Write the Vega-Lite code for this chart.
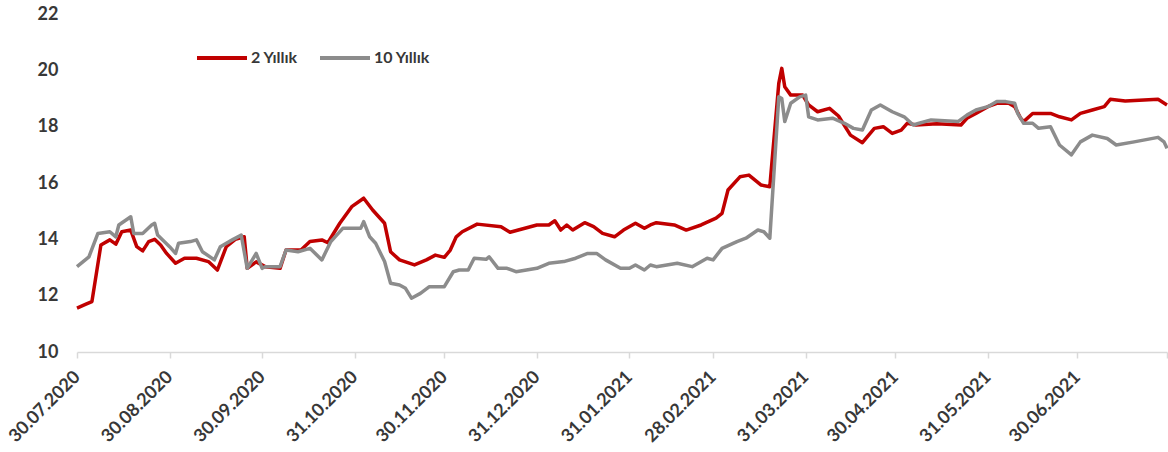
{
  "$schema": "https://vega.github.io/schema/vega-lite/v6.json",
  "width": 1090,
  "height": 338,
  "autosize": {"type": "none"},
  "padding": {"left": 77, "top": 14, "right": 1, "bottom": 100},
  "background": "white",
  "config": {"view": {"stroke": null}, "font": "Lato"},
  "data": {"values": [
    {"d":"2020-07-30","s":"2 Yıllık","v":11.56},
    {"d":"2020-08-02","s":"2 Yıllık","v":11.70},
    {"d":"2020-08-04","s":"2 Yıllık","v":11.79},
    {"d":"2020-08-07","s":"2 Yıllık","v":13.80},
    {"d":"2020-08-10","s":"2 Yıllık","v":13.98},
    {"d":"2020-08-12","s":"2 Yıllık","v":13.83},
    {"d":"2020-08-14","s":"2 Yıllık","v":14.27},
    {"d":"2020-08-17","s":"2 Yıllık","v":14.33},
    {"d":"2020-08-19","s":"2 Yıllık","v":13.74},
    {"d":"2020-08-21","s":"2 Yıllık","v":13.59},
    {"d":"2020-08-23","s":"2 Yıllık","v":13.92},
    {"d":"2020-08-25","s":"2 Yıllık","v":14.00},
    {"d":"2020-08-27","s":"2 Yıllık","v":13.80},
    {"d":"2020-08-29","s":"2 Yıllık","v":13.50},
    {"d":"2020-09-01","s":"2 Yıllık","v":13.15},
    {"d":"2020-09-04","s":"2 Yıllık","v":13.33},
    {"d":"2020-09-08","s":"2 Yıllık","v":13.33},
    {"d":"2020-09-12","s":"2 Yıllık","v":13.21},
    {"d":"2020-09-15","s":"2 Yıllık","v":12.91},
    {"d":"2020-09-18","s":"2 Yıllık","v":13.74},
    {"d":"2020-09-21","s":"2 Yıllık","v":14.00},
    {"d":"2020-09-24","s":"2 Yıllık","v":14.09},
    {"d":"2020-09-25","s":"2 Yıllık","v":12.97},
    {"d":"2020-09-28","s":"2 Yıllık","v":13.20},
    {"d":"2020-10-01","s":"2 Yıllık","v":13.03},
    {"d":"2020-10-06","s":"2 Yıllık","v":12.97},
    {"d":"2020-10-08","s":"2 Yıllık","v":13.62},
    {"d":"2020-10-13","s":"2 Yıllık","v":13.62},
    {"d":"2020-10-16","s":"2 Yıllık","v":13.92},
    {"d":"2020-10-20","s":"2 Yıllık","v":13.98},
    {"d":"2020-10-22","s":"2 Yıllık","v":13.88},
    {"d":"2020-10-26","s":"2 Yıllık","v":14.57},
    {"d":"2020-10-30","s":"2 Yıllık","v":15.16},
    {"d":"2020-11-03","s":"2 Yıllık","v":15.46},
    {"d":"2020-11-06","s":"2 Yıllık","v":15.04},
    {"d":"2020-11-10","s":"2 Yıllık","v":14.57},
    {"d":"2020-11-12","s":"2 Yıllık","v":13.56},
    {"d":"2020-11-15","s":"2 Yıllık","v":13.27},
    {"d":"2020-11-20","s":"2 Yıllık","v":13.09},
    {"d":"2020-11-24","s":"2 Yıllık","v":13.27},
    {"d":"2020-11-27","s":"2 Yıllık","v":13.44},
    {"d":"2020-11-30","s":"2 Yıllık","v":13.36},
    {"d":"2020-12-02","s":"2 Yıllık","v":13.62},
    {"d":"2020-12-04","s":"2 Yıllık","v":14.09},
    {"d":"2020-12-06","s":"2 Yıllık","v":14.27},
    {"d":"2020-12-11","s":"2 Yıllık","v":14.54},
    {"d":"2020-12-19","s":"2 Yıllık","v":14.45},
    {"d":"2020-12-22","s":"2 Yıllık","v":14.25},
    {"d":"2020-12-31","s":"2 Yıllık","v":14.51},
    {"d":"2021-01-04","s":"2 Yıllık","v":14.51},
    {"d":"2021-01-06","s":"2 Yıllık","v":14.66},
    {"d":"2021-01-08","s":"2 Yıllık","v":14.33},
    {"d":"2021-01-10","s":"2 Yıllık","v":14.51},
    {"d":"2021-01-12","s":"2 Yıllık","v":14.33},
    {"d":"2021-01-16","s":"2 Yıllık","v":14.59},
    {"d":"2021-01-19","s":"2 Yıllık","v":14.45},
    {"d":"2021-01-22","s":"2 Yıllık","v":14.21},
    {"d":"2021-01-26","s":"2 Yıllık","v":14.09},
    {"d":"2021-01-29","s":"2 Yıllık","v":14.33},
    {"d":"2021-02-02","s":"2 Yıllık","v":14.57},
    {"d":"2021-02-05","s":"2 Yıllık","v":14.39},
    {"d":"2021-02-07","s":"2 Yıllık","v":14.51},
    {"d":"2021-02-09","s":"2 Yıllık","v":14.59},
    {"d":"2021-02-15","s":"2 Yıllık","v":14.51},
    {"d":"2021-02-19","s":"2 Yıllık","v":14.33},
    {"d":"2021-02-24","s":"2 Yıllık","v":14.51},
    {"d":"2021-03-01","s":"2 Yıllık","v":14.75},
    {"d":"2021-03-03","s":"2 Yıllık","v":14.92},
    {"d":"2021-03-05","s":"2 Yıllık","v":15.75},
    {"d":"2021-03-09","s":"2 Yıllık","v":16.22},
    {"d":"2021-03-12","s":"2 Yıllık","v":16.28},
    {"d":"2021-03-16","s":"2 Yıllık","v":15.93},
    {"d":"2021-03-19","s":"2 Yıllık","v":15.87},
    {"d":"2021-03-22","s":"2 Yıllık","v":19.54},
    {"d":"2021-03-23","s":"2 Yıllık","v":20.07},
    {"d":"2021-03-24","s":"2 Yıllık","v":19.42},
    {"d":"2021-03-26","s":"2 Yıllık","v":19.12},
    {"d":"2021-03-30","s":"2 Yıllık","v":19.12},
    {"d":"2021-04-01","s":"2 Yıllık","v":18.77},
    {"d":"2021-04-04","s":"2 Yıllık","v":18.53},
    {"d":"2021-04-08","s":"2 Yıllık","v":18.65},
    {"d":"2021-04-11","s":"2 Yıllık","v":18.38},
    {"d":"2021-04-15","s":"2 Yıllık","v":17.70},
    {"d":"2021-04-19","s":"2 Yıllık","v":17.43},
    {"d":"2021-04-23","s":"2 Yıllık","v":17.94},
    {"d":"2021-04-26","s":"2 Yıllık","v":18.00},
    {"d":"2021-04-29","s":"2 Yıllık","v":17.76},
    {"d":"2021-05-02","s":"2 Yıllık","v":17.88},
    {"d":"2021-05-04","s":"2 Yıllık","v":18.12},
    {"d":"2021-05-07","s":"2 Yıllık","v":18.06},
    {"d":"2021-05-14","s":"2 Yıllık","v":18.10},
    {"d":"2021-05-22","s":"2 Yıllık","v":18.06},
    {"d":"2021-05-24","s":"2 Yıllık","v":18.30},
    {"d":"2021-05-27","s":"2 Yıllık","v":18.47},
    {"d":"2021-05-31","s":"2 Yıllık","v":18.71},
    {"d":"2021-06-03","s":"2 Yıllık","v":18.83},
    {"d":"2021-06-07","s":"2 Yıllık","v":18.83},
    {"d":"2021-06-09","s":"2 Yıllık","v":18.71},
    {"d":"2021-06-11","s":"2 Yıllık","v":18.30},
    {"d":"2021-06-12","s":"2 Yıllık","v":18.18},
    {"d":"2021-06-15","s":"2 Yıllık","v":18.47},
    {"d":"2021-06-21","s":"2 Yıllık","v":18.47},
    {"d":"2021-06-24","s":"2 Yıllık","v":18.35},
    {"d":"2021-06-28","s":"2 Yıllık","v":18.24},
    {"d":"2021-07-01","s":"2 Yıllık","v":18.47},
    {"d":"2021-07-05","s":"2 Yıllık","v":18.59},
    {"d":"2021-07-09","s":"2 Yıllık","v":18.71},
    {"d":"2021-07-11","s":"2 Yıllık","v":18.97},
    {"d":"2021-07-16","s":"2 Yıllık","v":18.91},
    {"d":"2021-07-27","s":"2 Yıllık","v":18.97},
    {"d":"2021-07-30","s":"2 Yıllık","v":18.77},
    {"d":"2020-07-30","s":"10 Yıllık","v":13.03},
    {"d":"2020-08-03","s":"10 Yıllık","v":13.38},
    {"d":"2020-08-06","s":"10 Yıllık","v":14.21},
    {"d":"2020-08-10","s":"10 Yıllık","v":14.27},
    {"d":"2020-08-12","s":"10 Yıllık","v":14.09},
    {"d":"2020-08-13","s":"10 Yıllık","v":14.51},
    {"d":"2020-08-17","s":"10 Yıllık","v":14.80},
    {"d":"2020-08-18","s":"10 Yıllık","v":14.21},
    {"d":"2020-08-21","s":"10 Yıllık","v":14.21},
    {"d":"2020-08-24","s":"10 Yıllık","v":14.51},
    {"d":"2020-08-25","s":"10 Yıllık","v":14.57},
    {"d":"2020-08-26","s":"10 Yıllık","v":14.15},
    {"d":"2020-08-30","s":"10 Yıllık","v":13.74},
    {"d":"2020-09-01","s":"10 Yıllık","v":13.50},
    {"d":"2020-09-02","s":"10 Yıllık","v":13.86},
    {"d":"2020-09-06","s":"10 Yıllık","v":13.92},
    {"d":"2020-09-08","s":"10 Yıllık","v":13.98},
    {"d":"2020-09-10","s":"10 Yıllık","v":13.56},
    {"d":"2020-09-14","s":"10 Yıllık","v":13.27},
    {"d":"2020-09-16","s":"10 Yıllık","v":13.74},
    {"d":"2020-09-20","s":"10 Yıllık","v":13.98},
    {"d":"2020-09-23","s":"10 Yıllık","v":14.15},
    {"d":"2020-09-25","s":"10 Yıllık","v":12.97},
    {"d":"2020-09-28","s":"10 Yıllık","v":13.50},
    {"d":"2020-09-30","s":"10 Yıllık","v":12.97},
    {"d":"2020-10-01","s":"10 Yıllık","v":13.03},
    {"d":"2020-10-06","s":"10 Yıllık","v":13.03},
    {"d":"2020-10-08","s":"10 Yıllık","v":13.62},
    {"d":"2020-10-12","s":"10 Yıllık","v":13.56},
    {"d":"2020-10-16","s":"10 Yıllık","v":13.68},
    {"d":"2020-10-20","s":"10 Yıllık","v":13.27},
    {"d":"2020-10-23","s":"10 Yıllık","v":13.92},
    {"d":"2020-10-27","s":"10 Yıllık","v":14.39},
    {"d":"2020-11-02","s":"10 Yıllık","v":14.39},
    {"d":"2020-11-03","s":"10 Yıllık","v":14.63},
    {"d":"2020-11-05","s":"10 Yıllık","v":14.09},
    {"d":"2020-11-07","s":"10 Yıllık","v":13.86},
    {"d":"2020-11-10","s":"10 Yıllık","v":13.21},
    {"d":"2020-11-12","s":"10 Yıllık","v":12.44},
    {"d":"2020-11-15","s":"10 Yıllık","v":12.38},
    {"d":"2020-11-17","s":"10 Yıllık","v":12.26},
    {"d":"2020-11-19","s":"10 Yıllık","v":11.91},
    {"d":"2020-11-22","s":"10 Yıllık","v":12.08},
    {"d":"2020-11-25","s":"10 Yıllık","v":12.32},
    {"d":"2020-11-30","s":"10 Yıllık","v":12.32},
    {"d":"2020-12-03","s":"10 Yıllık","v":12.85},
    {"d":"2020-12-05","s":"10 Yıllık","v":12.91},
    {"d":"2020-12-08","s":"10 Yıllık","v":12.91},
    {"d":"2020-12-10","s":"10 Yıllık","v":13.33},
    {"d":"2020-12-14","s":"10 Yıllık","v":13.29},
    {"d":"2020-12-15","s":"10 Yıllık","v":13.38},
    {"d":"2020-12-18","s":"10 Yıllık","v":12.97},
    {"d":"2020-12-21","s":"10 Yıllık","v":12.97},
    {"d":"2020-12-24","s":"10 Yıllık","v":12.85},
    {"d":"2020-12-31","s":"10 Yıllık","v":12.97},
    {"d":"2021-01-04","s":"10 Yıllık","v":13.15},
    {"d":"2021-01-09","s":"10 Yıllık","v":13.21},
    {"d":"2021-01-13","s":"10 Yıllık","v":13.33},
    {"d":"2021-01-17","s":"10 Yıllık","v":13.50},
    {"d":"2021-01-20","s":"10 Yıllık","v":13.50},
    {"d":"2021-01-23","s":"10 Yıllık","v":13.27},
    {"d":"2021-01-28","s":"10 Yıllık","v":12.97},
    {"d":"2021-01-31","s":"10 Yıllık","v":12.97},
    {"d":"2021-02-02","s":"10 Yıllık","v":13.09},
    {"d":"2021-02-05","s":"10 Yıllık","v":12.91},
    {"d":"2021-02-07","s":"10 Yıllık","v":13.09},
    {"d":"2021-02-09","s":"10 Yıllık","v":13.03},
    {"d":"2021-02-16","s":"10 Yıllık","v":13.15},
    {"d":"2021-02-21","s":"10 Yıllık","v":13.03},
    {"d":"2021-02-26","s":"10 Yıllık","v":13.33},
    {"d":"2021-02-28","s":"10 Yıllık","v":13.27},
    {"d":"2021-03-03","s":"10 Yıllık","v":13.68},
    {"d":"2021-03-08","s":"10 Yıllık","v":13.92},
    {"d":"2021-03-11","s":"10 Yıllık","v":14.04},
    {"d":"2021-03-15","s":"10 Yıllık","v":14.33},
    {"d":"2021-03-17","s":"10 Yıllık","v":14.27},
    {"d":"2021-03-19","s":"10 Yıllık","v":14.04},
    {"d":"2021-03-22","s":"10 Yıllık","v":19.06},
    {"d":"2021-03-23","s":"10 Yıllık","v":19.00},
    {"d":"2021-03-24","s":"10 Yıllık","v":18.18},
    {"d":"2021-03-26","s":"10 Yıllık","v":18.83},
    {"d":"2021-03-29","s":"10 Yıllık","v":19.06},
    {"d":"2021-03-31","s":"10 Yıllık","v":19.12},
    {"d":"2021-04-01","s":"10 Yıllık","v":18.35},
    {"d":"2021-04-04","s":"10 Yıllık","v":18.24},
    {"d":"2021-04-09","s":"10 Yıllık","v":18.30},
    {"d":"2021-04-13","s":"10 Yıllık","v":18.12},
    {"d":"2021-04-16","s":"10 Yıllık","v":17.94},
    {"d":"2021-04-19","s":"10 Yıllık","v":17.88},
    {"d":"2021-04-22","s":"10 Yıllık","v":18.59},
    {"d":"2021-04-25","s":"10 Yıllık","v":18.77},
    {"d":"2021-04-29","s":"10 Yıllık","v":18.53},
    {"d":"2021-05-03","s":"10 Yıllık","v":18.35},
    {"d":"2021-05-06","s":"10 Yıllık","v":18.06},
    {"d":"2021-05-08","s":"10 Yıllık","v":18.12},
    {"d":"2021-05-12","s":"10 Yıllık","v":18.24},
    {"d":"2021-05-21","s":"10 Yıllık","v":18.18},
    {"d":"2021-05-24","s":"10 Yıllık","v":18.41},
    {"d":"2021-05-27","s":"10 Yıllık","v":18.59},
    {"d":"2021-05-31","s":"10 Yıllık","v":18.71},
    {"d":"2021-06-03","s":"10 Yıllık","v":18.89},
    {"d":"2021-06-06","s":"10 Yıllık","v":18.89},
    {"d":"2021-06-09","s":"10 Yıllık","v":18.83},
    {"d":"2021-06-10","s":"10 Yıllık","v":18.47},
    {"d":"2021-06-12","s":"10 Yıllık","v":18.12},
    {"d":"2021-06-15","s":"10 Yıllık","v":18.12},
    {"d":"2021-06-17","s":"10 Yıllık","v":17.94},
    {"d":"2021-06-21","s":"10 Yıllık","v":18.00},
    {"d":"2021-06-24","s":"10 Yıllık","v":17.35},
    {"d":"2021-06-28","s":"10 Yıllık","v":17.00},
    {"d":"2021-07-01","s":"10 Yıllık","v":17.46},
    {"d":"2021-07-05","s":"10 Yıllık","v":17.70},
    {"d":"2021-07-10","s":"10 Yıllık","v":17.58},
    {"d":"2021-07-13","s":"10 Yıllık","v":17.35},
    {"d":"2021-07-19","s":"10 Yıllık","v":17.46},
    {"d":"2021-07-27","s":"10 Yıllık","v":17.62},
    {"d":"2021-07-29","s":"10 Yıllık","v":17.46},
    {"d":"2021-07-30","s":"10 Yıllık","v":17.23}
  ]},
  "mark": {"type": "line", "strokeWidth": 3.5, "strokeJoin": "round", "clip": false},
  "encoding": {
    "x": {
      "field": "d", "type": "temporal",
      "scale": {"type": "utc", "domain": [{"year": 2020, "month": 7, "date": 30, "utc": true}, {"year": 2021, "month": 7, "date": 30, "utc": true}]},
      "axis": {
        "title": null,
        "grid": false,
        "values": [
          {"year": 2020, "month": 7, "date": 30, "utc": true},
          {"year": 2020, "month": 8, "date": 30, "utc": true},
          {"year": 2020, "month": 9, "date": 30, "utc": true},
          {"year": 2020, "month": 10, "date": 31, "utc": true},
          {"year": 2020, "month": 11, "date": 30, "utc": true},
          {"year": 2020, "month": 12, "date": 31, "utc": true},
          {"year": 2021, "month": 1, "date": 31, "utc": true},
          {"year": 2021, "month": 2, "date": 28, "utc": true},
          {"year": 2021, "month": 3, "date": 31, "utc": true},
          {"year": 2021, "month": 4, "date": 30, "utc": true},
          {"year": 2021, "month": 5, "date": 31, "utc": true},
          {"year": 2021, "month": 6, "date": 30, "utc": true},
          {"year": 2021, "month": 7, "date": 30, "utc": true}
        ],
        "labelExpr": "utcFormat(datum.value, '%Y-%m') == '2021-07' ? '' : utcFormat(datum.value, '%d.%m.%Y')",
        "labelAngle": -45,
        "labelAlign": "right",
        "labelBaseline": "middle",
        "labelFont": "Lato",
        "labelFontWeight": "bold",
        "labelFontSize": 18,
        "labelColor": "#383838",
        "labelPadding": 16,
        "labelOverlap": false,
        "labelFlush": false,
        "domainColor": "#d9d9d9",
        "domainWidth": 1.5,
        "tickColor": "#d9d9d9",
        "tickSize": 6,
        "tickWidth": 1.5
      }
    },
    "y": {
      "field": "v", "type": "quantitative",
      "scale": {"domain": [10, 22], "nice": false, "zero": false},
      "axis": {
        "title": null,
        "grid": false,
        "domain": false,
        "ticks": false,
        "tickSize": 0,
        "values": [10, 12, 14, 16, 18, 20, 22],
        "labelFont": "Lato",
        "labelFontWeight": "bold",
        "labelFontSize": 18,
        "labelColor": "#383838",
        "labelPadding": 19
      }
    },
    "color": {
      "field": "s", "type": "nominal",
      "scale": {"domain": ["2 Yıllık", "10 Yıllık"], "range": ["#c00000", "#8c8c8c"]},
      "legend": {
        "title": null,
        "orient": "none",
        "direction": "horizontal",
        "legendX": 118,
        "legendY": 17,
        "symbolType": "stroke",
        "symbolSize": 2500,
        "symbolStrokeWidth": 4,
        "labelFont": "Lato",
        "labelFontWeight": "bold",
        "labelFontSize": 16,
        "labelColor": "#383838",
        "labelOffset": 2,
        "columnPadding": 14
      }
    }
  }
}
